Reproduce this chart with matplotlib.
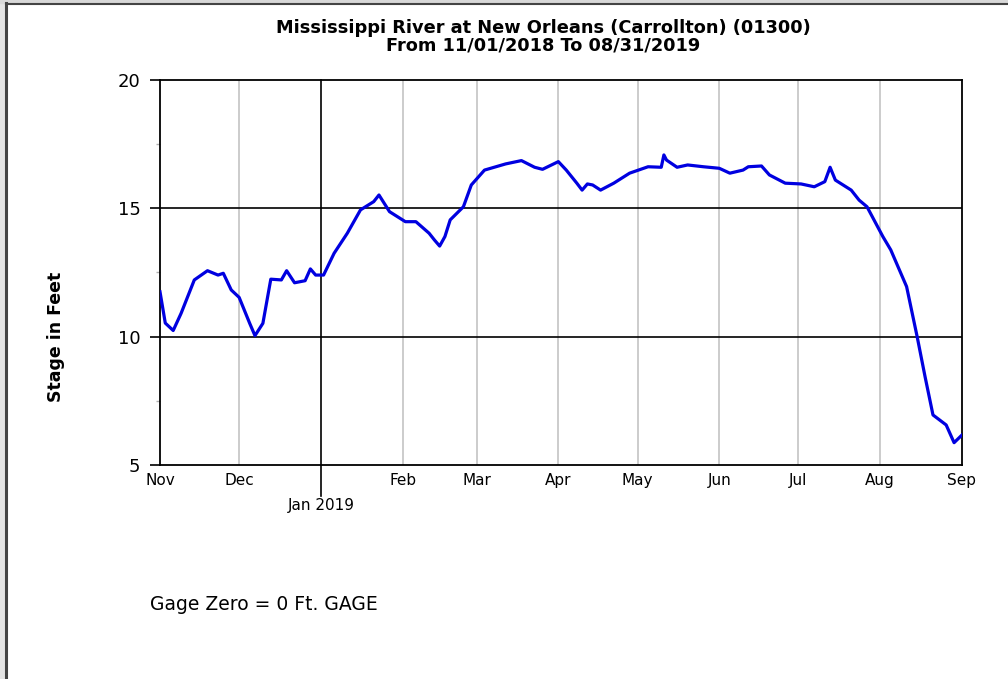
'''
Mississippi River stage at New Orleans (Carrollton), Nov 2018 - Aug 2019
'''
import matplotlib
matplotlib.use('Agg')
import matplotlib.pyplot as plt
from matplotlib.patches import Rectangle
import numpy as np

# stage readings (ft)
dates = ['2018-11-01', '2018-11-03', '2018-11-06', '2018-11-09', '2018-11-12', '2018-11-14',
         '2018-11-19', '2018-11-23', '2018-11-25', '2018-11-28', '2018-12-01', '2018-12-05',
         '2018-12-07', '2018-12-10', '2018-12-13', '2018-12-17', '2018-12-19', '2018-12-22',
         '2018-12-26', '2018-12-28', '2018-12-30', '2019-01-02', '2019-01-06', '2019-01-11',
         '2019-01-16', '2019-01-21', '2019-01-23', '2019-01-27', '2019-02-02', '2019-02-06',
         '2019-02-11', '2019-02-13', '2019-02-15', '2019-02-17', '2019-02-19', '2019-02-24',
         '2019-02-27', '2019-03-04', '2019-03-12', '2019-03-18', '2019-03-23', '2019-03-26',
         '2019-04-01', '2019-04-04', '2019-04-08', '2019-04-10', '2019-04-12', '2019-04-14',
         '2019-04-17', '2019-04-22', '2019-04-28', '2019-05-05', '2019-05-10', '2019-05-11',
         '2019-05-12', '2019-05-16', '2019-05-20', '2019-05-26', '2019-06-01', '2019-06-05',
         '2019-06-10', '2019-06-12', '2019-06-17', '2019-06-20', '2019-06-26', '2019-07-02',
         '2019-07-07', '2019-07-11', '2019-07-13', '2019-07-15', '2019-07-21', '2019-07-24',
         '2019-07-27', '2019-08-02', '2019-08-05', '2019-08-11', '2019-08-15', '2019-08-18',
         '2019-08-21', '2019-08-26', '2019-08-29', '2019-09-01']
stage = [11.75, 10.53, 10.24, 10.91, 11.69, 12.21,
         12.57, 12.40, 12.47, 11.82, 11.53, 10.52,
         10.04, 10.52, 12.24, 12.21, 12.57, 12.10,
         12.18, 12.64, 12.40, 12.40, 13.25, 14.03,
         14.94, 15.26, 15.52, 14.87, 14.48, 14.48,
         14.03, 13.77, 13.53, 13.90, 14.55, 15.06,
         15.91, 16.49, 16.73, 16.86, 16.60, 16.52,
         16.82, 16.49, 15.98, 15.71, 15.95, 15.91,
         15.71, 15.98, 16.37, 16.62, 16.60, 17.08,
         16.88, 16.60, 16.69, 16.62, 16.56, 16.37,
         16.49, 16.62, 16.65, 16.30, 15.98, 15.95,
         15.84, 16.04, 16.60, 16.10, 15.71, 15.32,
         15.06, 13.90, 13.38, 11.95, 10.00, 8.44,
         6.95, 6.56, 5.87, 6.17]

month_starts = ['2018-11-01', '2018-12-01', '2019-01-01', '2019-02-01', '2019-03-01', '2019-04-01',
                '2019-05-01', '2019-06-01', '2019-07-01', '2019-08-01', '2019-09-01']
month_labels = ['Nov', 'Dec', '', 'Feb', 'Mar', 'Apr', 'May', 'Jun', 'Jul', 'Aug', 'Sep']

x = np.array(dates, dtype='datetime64[D]')
months = np.array(month_starts, dtype='datetime64[D]')

plt.rcParams['font.family'] = ['DejaVu Sans']

fig = plt.figure(figsize=(10.08, 6.79), dpi=100)
ax = fig.add_axes([160/1008, 1 - 465/679, 802/1008, 385/679])

# window frame
fig.patches.append(Rectangle((0, 0), 5/1008, 1, transform=fig.transFigure, color='#e4e4e4', zorder=0))
fig.patches.append(Rectangle((0, 1 - 3/679), 1, 3/679, transform=fig.transFigure, color='#d8d8d8', zorder=0))
fig.lines.append(plt.Line2D([6/1008, 6/1008], [0, 1 - 3/679], transform=fig.transFigure, color='#444444', lw=2.2))
fig.lines.append(plt.Line2D([6/1008, 1], [1 - 3.5/679, 1 - 3.5/679], transform=fig.transFigure, color='#444444', lw=1.5))

# month grid
jan = np.datetime64('2019-01-01')
for m in months[1:-1]:
    if m == jan:
        continue
    ax.axvline(m, color='#c8c8c8', lw=1.3, zorder=1)
for v in [10, 15]:
    ax.axhline(v, color='black', lw=1.2, zorder=1)
ax.plot([jan, jan], [-0.08, 1], transform=ax.get_xaxis_transform(), color='black', lw=1.2,
        clip_on=False, zorder=1)

ax.plot(x, stage, color='#0000e0', lw=2.3, zorder=3)

ax.set_xlim(months[0], months[-1])
ax.set_ylim(5, 20)
ax.set_xticks(months)
ax.set_xticklabels(month_labels, fontsize=11)
ax.tick_params(axis='x', length=0, pad=6)
ax.text(jan, -0.087, 'Jan 2019', transform=ax.get_xaxis_transform(), ha='center', va='top', fontsize=11)

ax.set_yticks([5, 10, 15, 20])
ax.set_yticks([7.5, 12.5, 17.5], minor=True)
ax.tick_params(axis='y', which='major', length=7, width=1.2, labelsize=13, pad=7)
ax.tick_params(axis='y', which='minor', length=3, width=1, color='#b0b0b0')
for s in ax.spines.values():
    s.set_linewidth(1.3)

fig.text(56/1008, 1 - 337/679, 'Stage in Feet', rotation=90, ha='center', va='center',
         fontsize=12.5, fontweight='bold')
fig.text(543/1008, 1 - 28/679, 'Mississippi River at New Orleans (Carrollton) (01300)',
         ha='center', va='center', fontsize=12.8, fontweight='bold')
fig.text(543/1008, 1 - 46/679, 'From 11/01/2018 To 08/31/2019',
         ha='center', va='center', fontsize=12.8, fontweight='bold')
fig.text(150/1008, 1 - 604/679, 'Gage Zero = 0 Ft. GAGE', ha='left', va='center', fontsize=13.5)

fig.savefig('out.png', dpi=100)
